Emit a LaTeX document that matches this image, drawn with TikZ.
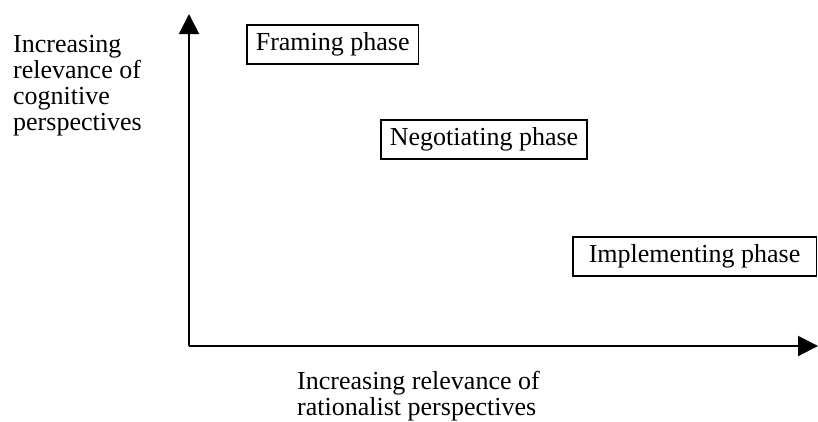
\documentclass[tikz,border=0pt]{standalone}
\usepackage{fontspec}
\setmainfont{Liberation Serif}
\usetikzlibrary{arrows.meta}
\begin{document}
\begin{tikzpicture}[x=1pt,y=-1pt,
  lbl/.style={font=\fontsize{26}{25.7}\selectfont, inner sep=0pt, anchor=base west, align=left},
  phasebox/.style={draw, line width=1.6pt, font=\fontsize{26}{25.7}\selectfont, inner ysep=0pt, inner xsep=9pt, text height=25pt, text depth=14pt, anchor=base west},
  axis/.style={line width=2pt, -{Triangle[length=20pt,width=20pt]}}]
\useasboundingbox (0,0) rectangle (818,421);
\coordinate (origin) at (189,346);
\coordinate (ytip) at (189,14);
\coordinate (xtip) at (818,346);
\draw[axis] (origin) -- (ytip);
\draw[axis] (origin) -- (xtip);
\node[phasebox] (framing) at (246,50) {Framing phase};
\node[phasebox] (negotiating) at (380,145) {Negotiating phase};
\node[phasebox, inner xsep=16pt] (implementing) at (572,262) {Implementing phase};
\node[lbl] (ylabel) at (13,130) {Increasing\\relevance of\\cognitive\\perspectives};
\node[lbl] (xlabel) at (297,415) {Increasing relevance of\\rationalist perspectives};
\end{tikzpicture}
\end{document}
